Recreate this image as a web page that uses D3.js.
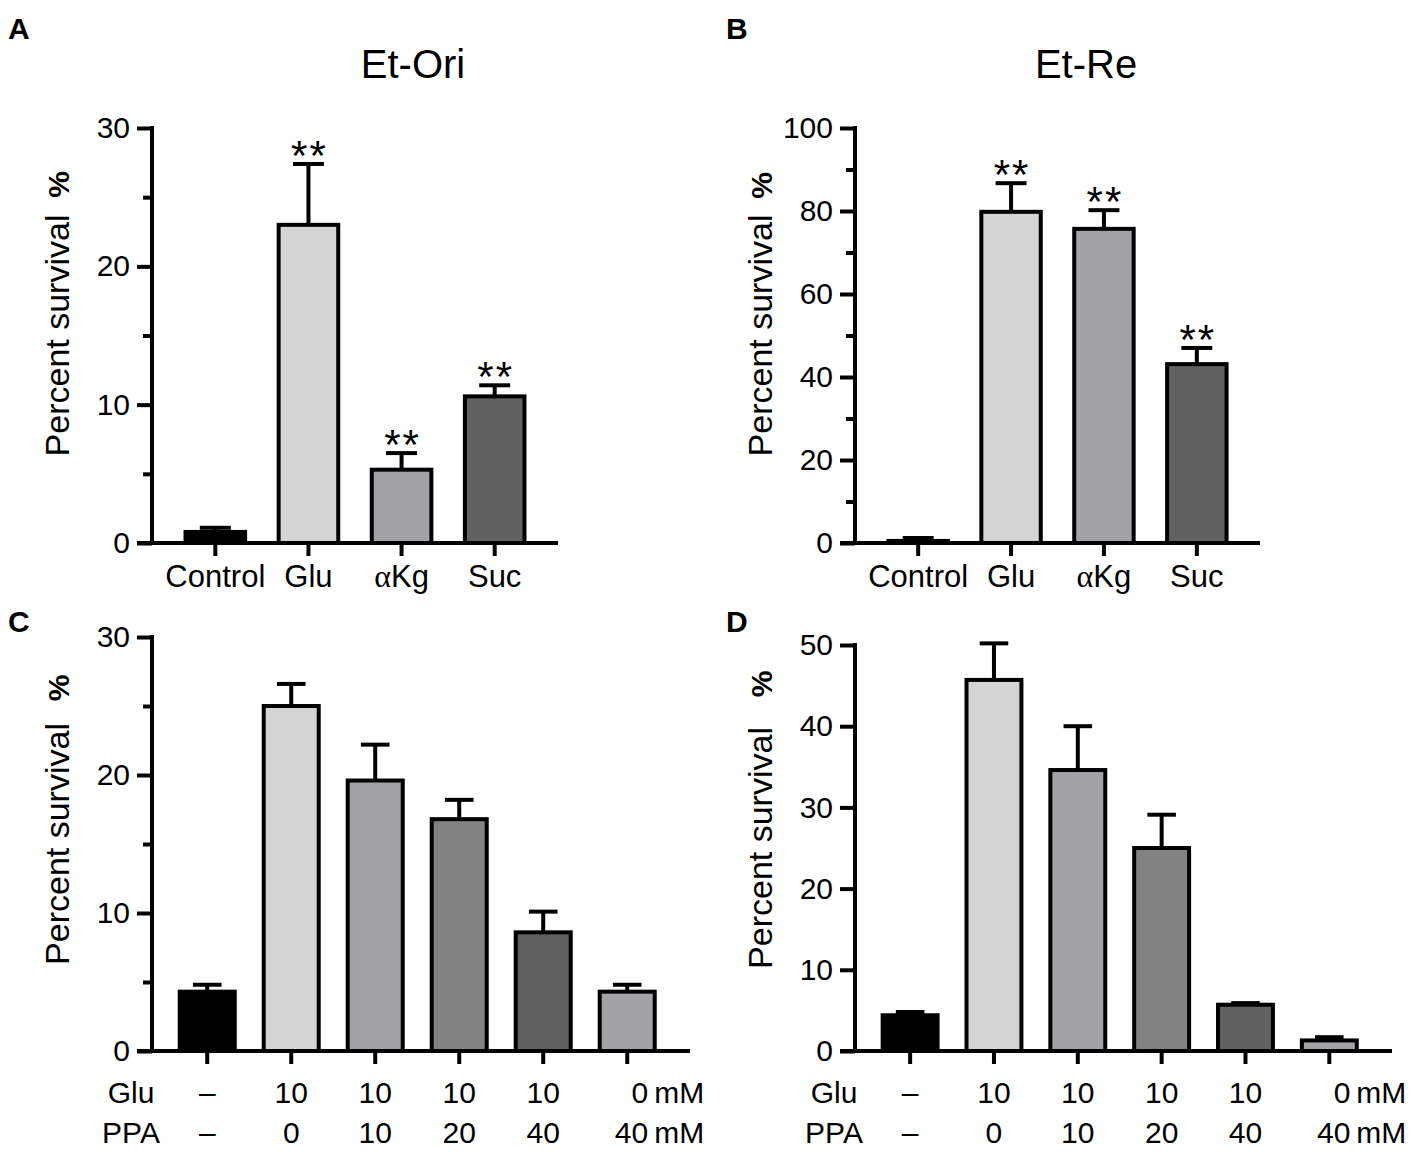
<!DOCTYPE html>
<html><head><meta charset="utf-8">
<script src="https://cdn.jsdelivr.net/npm/d3@7"></script>
<style>
body{margin:0;background:#fff}
svg{display:block}
text{font-family:"Liberation Sans",Arial,Helvetica,sans-serif;fill:#000}
</style>
</head><body>
<svg id="chart" width="1418" height="1160"></svg>
<script>
// ---------- data ----------
const categoriesAB = ["Control", "Glu", "αKg", "Suc"];
const meanA = [0.8, 23.0, 5.3, 10.6];
const errA  = [0.3, 4.4, 1.2, 0.8];
const sigA  = ["", "**", "**", "**"];
const meanB = [0.5, 79.8, 75.7, 43.1];
const errB  = [0.7, 6.9, 4.5, 3.9];
const sigB  = ["", "**", "**", "**"];

const gluRow = ["–", "10", "10", "10", "10", "0"];
const ppaRow = ["–", "0", "10", "20", "40", "40"];
const categoriesCD = ["g1", "g2", "g3", "g4", "g5", "g6"];
const meanC = [4.3, 25.0, 19.6, 16.8, 8.6, 4.3];
const errC  = [0.5, 1.6, 2.6, 1.4, 1.5, 0.5];
const meanD = [4.4, 45.7, 34.6, 25.0, 5.7, 1.3];
const errD  = [0.4, 4.5, 5.4, 4.1, 0.2, 0.4];

const ticksA = [0, 10, 20, 30], minorA = [5, 15, 25];
const ticksB = [0, 20, 40, 60, 80, 100], minorB = [10, 30, 50, 70, 90];
const ticksC = [0, 10, 20, 30], minorC = [5, 15, 25];
const ticksD = [0, 10, 20, 30, 40, 50], minorD = [];

const colorsAB = ["#000000", "#d4d4d4", "#a3a3a7", "#616161"];
const colorsCD = ["#000000", "#d4d4d4", "#a3a3a7", "#828282", "#616161", "#a3a3a7"];

const yLabel = "Percent survival";
const unit = "mM";

// ---------- layout ----------
const svg = d3.select("#chart");
const panels = [
  {label:"A", lx:8, ly:39, title:"Et-Ori", tx:413, ty:78, x0:152, x1:558, yTop:128, yBot:543, pct:-151,
   pi:0.36, po:0.36, align:0.5,
   max:30, ticks:ticksA, minor:minorA, cats:categoriesAB, mean:meanA, err:errA, sig:sigA, colors:colorsAB, type:"ab"},
  {label:"B", lx:726, ly:39, title:"Et-Re", tx:1086, ty:78, x0:855, x1:1260, yTop:128, yBot:543, pct:-150,
   pi:0.36, po:0.36, align:0.5,
   max:100, ticks:ticksB, minor:minorB, cats:categoriesAB, mean:meanB, err:errB, sig:sigB, colors:colorsAB, type:"ab"},
  {label:"C", lx:8, ly:632, x0:152, x1:690, yTop:637, yBot:1051, pct:-156,
   pi:0.345, po:0.375, align:0.44,
   max:30, ticks:ticksC, minor:minorC, cats:categoriesCD, mean:meanC, err:errC, colors:colorsCD, type:"cd"},
  {label:"D", lx:726, ly:632, x0:855, x1:1392, yTop:645, yBot:1051, pct:-164,
   pi:0.345, po:0.375, align:0.44,
   max:50, ticks:ticksD, minor:minorD, cats:categoriesCD, mean:meanD, err:errD, colors:colorsCD, type:"cd"}
];

const LW = 4;
const FS = 30;

panels.forEach(p => {
  const g = svg.append("g");
  const y = d3.scaleLinear().domain([0, p.max]).range([p.yBot, p.yTop]);
  const x = d3.scaleBand().domain(p.cats).range([p.x0, p.x1])
    .paddingInner(p.pi).paddingOuter(p.po).align(p.align);
  const bw = x.bandwidth();

  // panel letter
  g.append("text").attr("x", p.lx).attr("y", p.ly).attr("font-size", 30).attr("font-weight", "bold").text(p.label);
  if (p.title) {
    g.append("text").attr("x", p.tx).attr("y", p.ty).attr("text-anchor", "middle").attr("font-size", 40).text(p.title);
  }

  // y axis
  const ya = g.append("g").attr("transform", `translate(${p.x0},0)`)
    .call(d3.axisLeft(y).tickValues(p.ticks).tickSize(15).tickSizeOuter(0).tickPadding(7).tickFormat(d3.format("d")));
  ya.selectAll("path,line").attr("stroke", "#000").attr("stroke-width", LW);
  ya.selectAll("text").attr("font-size", 30).attr("font-family", '"Liberation Sans",Arial,sans-serif').attr("fill", "#000");
  ya.select(".domain").attr("d", `M0,${p.yBot + LW/2}V${p.yTop - LW/2}`);
  if (p.minor.length) {
    const ym = g.append("g").attr("transform", `translate(${p.x0},0)`)
      .call(d3.axisLeft(y).tickValues(p.minor).tickSize(9).tickFormat(""));
    ym.select(".domain").remove();
    ym.selectAll("line").attr("stroke", "#000").attr("stroke-width", LW);
  }

  // y label
  const cy = (p.yTop + p.yBot) / 2;
  const lxp = p.x0 - 83;
  g.append("text").attr("transform", `translate(${lxp},${cy}) rotate(-90)`)
    .attr("text-anchor", "middle").attr("font-size", 34).text(yLabel);
  g.append("text").attr("transform", `translate(${lxp},${cy + p.pct}) rotate(-90)`)
    .attr("text-anchor", "middle").attr("font-size", 30).attr("font-weight", "bold").text("%");

  // bars
  g.selectAll("rect.bar").data(p.mean).join("rect").attr("class", "bar")
    .attr("x", (d, i) => x(p.cats[i]))
    .attr("y", d => y(d))
    .attr("width", bw)
    .attr("height", d => y(0) - y(d))
    .attr("fill", (d, i) => p.colors[i])
    .attr("stroke", "#000").attr("stroke-width", LW);

  // error bars (upper only)
  const capW = bw * 0.52;
  p.mean.forEach((m, i) => {
    const cx = x(p.cats[i]) + bw / 2;
    const top = y(m + p.err[i]);
    g.append("line").attr("x1", cx).attr("x2", cx).attr("y1", y(m)).attr("y2", top)
      .attr("stroke", "#000").attr("stroke-width", LW);
    g.append("line").attr("x1", cx - capW/2).attr("x2", cx + capW/2).attr("y1", top).attr("y2", top)
      .attr("stroke", "#000").attr("stroke-width", LW);
    if (p.sig && p.sig[i]) {
      g.append("text").attr("x", cx + 1).attr("y", top + 6).attr("text-anchor", "middle")
        .attr("font-size", 42).attr("letter-spacing", 2).text(p.sig[i]);
    }
  });

  // x axis
  const xa = g.append("g").attr("transform", `translate(0,${p.yBot})`)
    .call(d3.axisBottom(x).tickSize(13).tickSizeOuter(0).tickFormat(""));
  xa.select(".domain").attr("d", `M${p.x0 - 15},0H${p.x1}`).attr("stroke", "#000").attr("stroke-width", LW);
  xa.selectAll("line").attr("stroke", "#000").attr("stroke-width", LW);

  if (p.type === "ab") {
    p.cats.forEach((c, i) => {
      const cx = x(c) + bw / 2;
      const t = g.append("text").attr("x", cx).attr("y", p.yBot + 44).attr("text-anchor", "middle").attr("font-size", 31);
      if (c.startsWith("α")) {
        t.append("tspan").attr("font-family", '"Liberation Serif","Times New Roman",serif').attr("font-size", 32).text("α");
        t.append("tspan").text(c.slice(1));
      } else {
        t.text(c);
      }
    });
  } else {
    const rowY = [p.yBot + 52, p.yBot + 92];
    const rowNames = ["Glu", "PPA"];
    const rows = [gluRow, ppaRow];
    rowNames.forEach((nm, r) => {
      g.append("text").attr("x", p.x0 - 21).attr("y", rowY[r]).attr("text-anchor", "middle").attr("font-size", FS).text(nm);
      rows[r].forEach((v, i) => {
        const cx = x(p.cats[i]) + bw / 2;
        const last = i === rows[r].length - 1;
        g.append("text").attr("x", last ? cx + 21 : cx).attr("y", rowY[r])
          .attr("text-anchor", last ? "end" : "middle").attr("font-size", FS).text(v);
        if (last) {
          g.append("text").attr("x", cx + 27).attr("y", rowY[r]).attr("font-size", FS).text(unit);
        }
      });
    });
  }
});
</script>
</body></html>
